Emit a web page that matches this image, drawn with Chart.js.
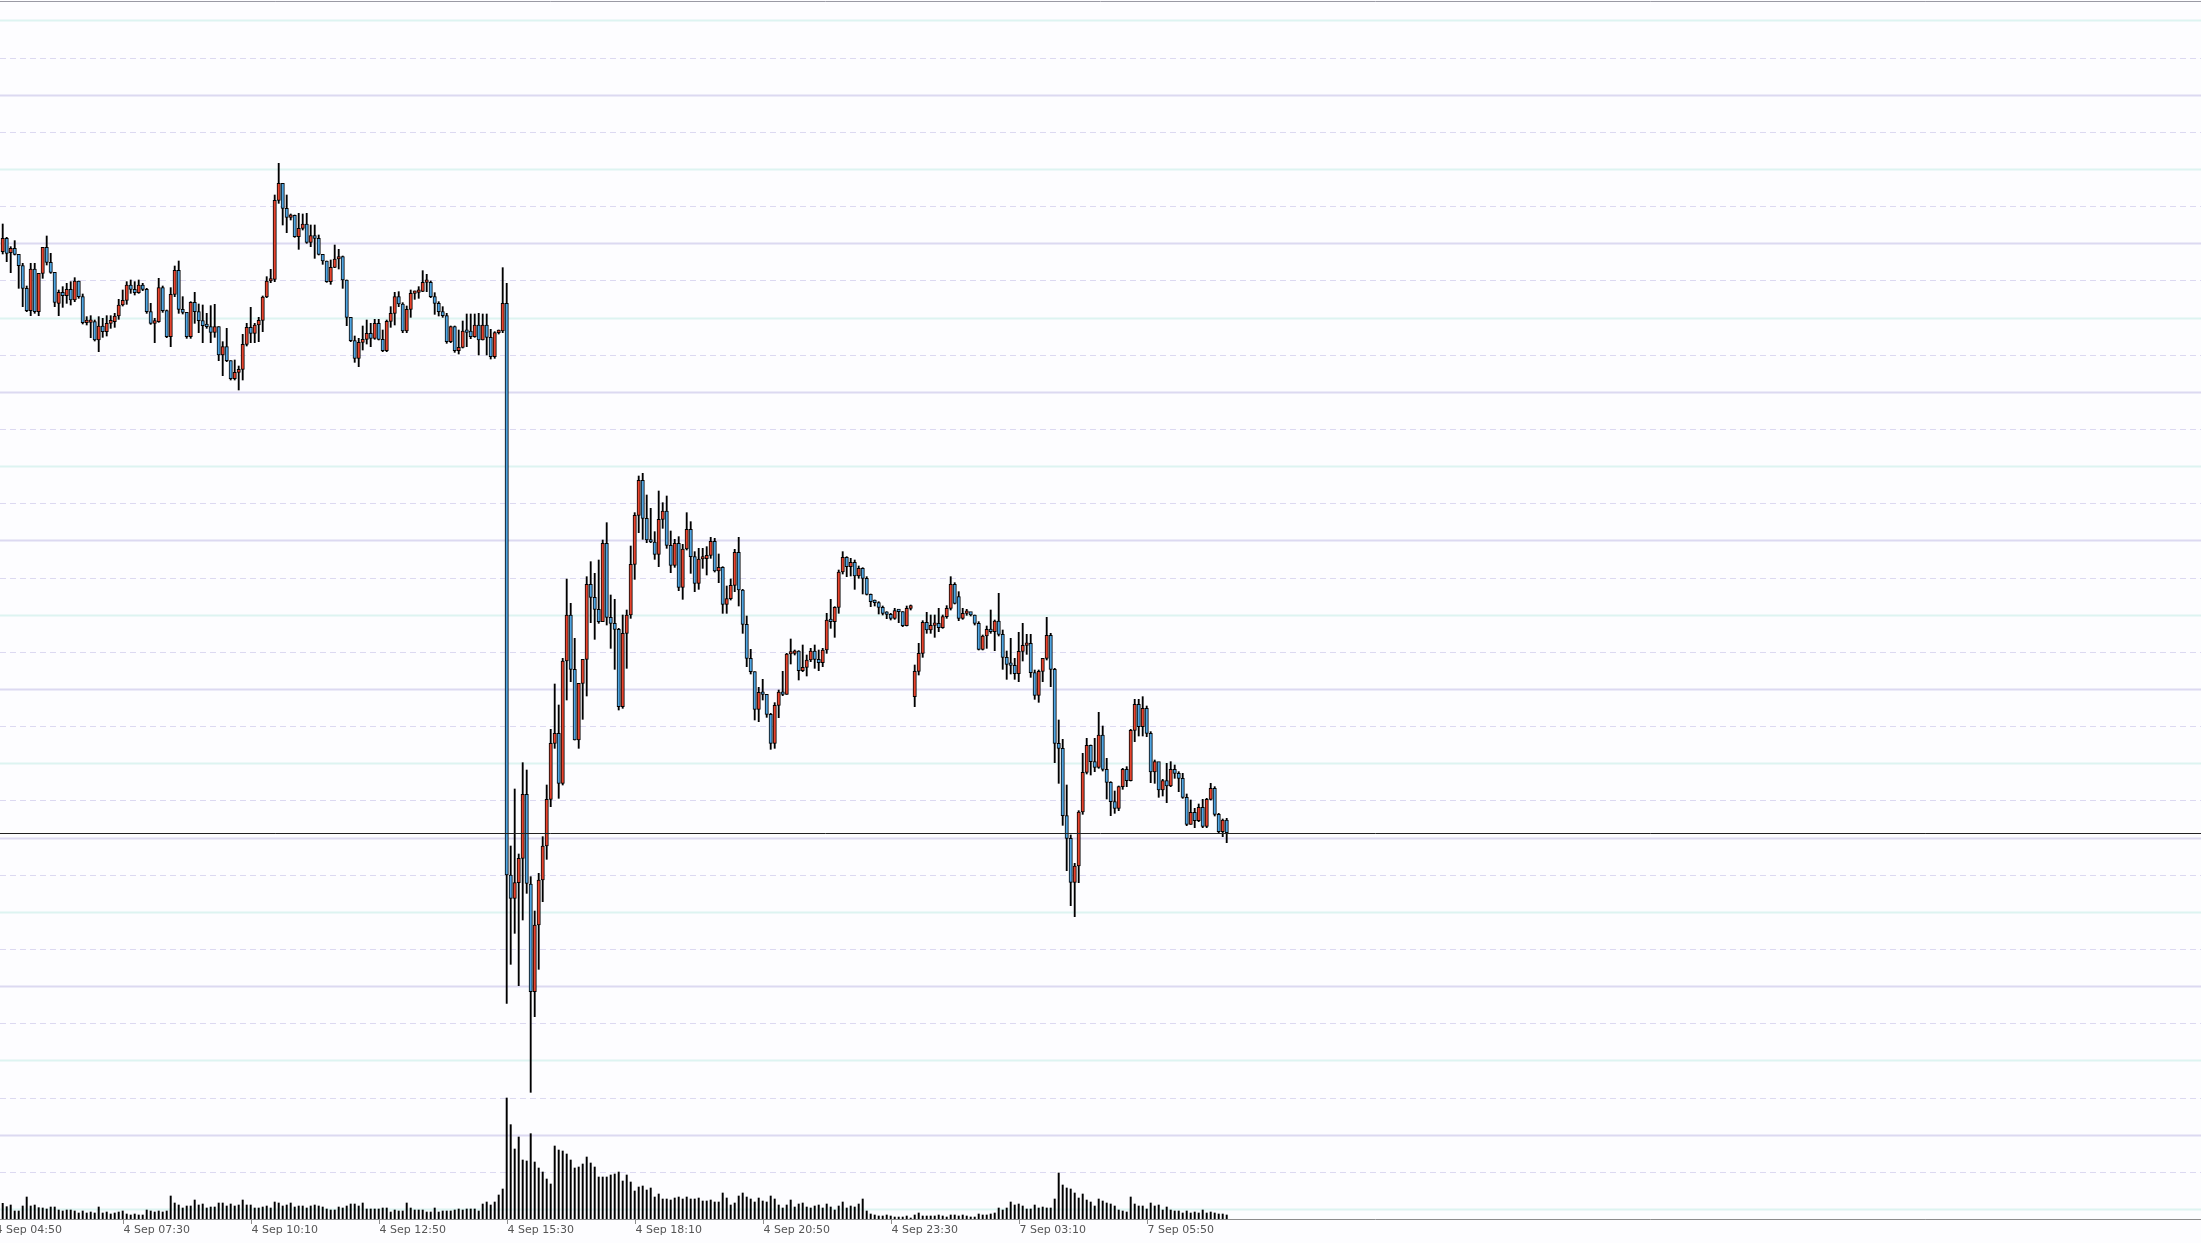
<!DOCTYPE html>
<html>
<head>
<meta charset="utf-8">
<script src="https://cdn.jsdelivr.net/npm/chart.js@4/dist/chart.umd.min.js"></script>
<style>
  html, body { margin: 0; padding: 0; background: #fdfdff; }
  #wrap { width: 2201px; height: 1243px; }
</style>
</head>
<body>
<div id="wrap"><canvas id="chart"></canvas></div>
<script>
// 5-minute candles, 4 Sep 05:00 .. 23:55, then 7 Sep 01:00 .. 06:30
const openVals = [
  2902,2942,2899,2912,2894,2860,2792,2725,2850,2722, 2837,2915,2870,2840,2747,2780,2770,2789,2757,2814,
  2767,2689,2690,2692,2637,2679,2662,2687,2692,2709, 2742,2756,2802,2789,2779,2802,2789,2722,2687,2692,
  2794,2725,2647,2774,2846,2729,2720,2647,2750,2722, 2695,2680,2677,2660,2677,2592,2617,2575,2521,2540,
  2549,2624,2675,2657,2682,2696,2766,2814,2819,3056, 3107,3032,3005,3011,2947,2972,2985,2930,2950,2942,
  2894,2874,2812,2855,2880,2887,2817,2705,2635,2582, 2630,2639,2657,2642,2687,2639,2605,2693,2717,2767,
  2745,2664,2729,2777,2780,2783,2810,2810,2767,2747, 2722,2710,2632,2677,2605,2615,2664,2664,2647,2682,
  2637,2682,2645,2587,2659,2664,2747,1032,962,1009, 1082,1274,1005,682,882,1017,1119,1259,1427,1457,
  1307,1674,1812,1649,1437,1607,1679,1904,1865,1829, 1792,2027,1805,1787,1769,1537,1757,1812,1964,2111,
  2216,2102,2037,2031,1994,2099,2124,2021,1961,2027, 1895,2010,2069,1987,1907,1980,1981,1991,2033,1944,
  1955,1844,1861,1901,2000,1887,1784,1682,1642,1529, 1580,1574,1514,1427,1541,1581,1574,1695,1697,1704,
  1645,1655,1677,1704,1679,1669,1707,1797,1792,1835, 1941,1985,1957,1970,1929,1952,1922,1874,1852,1849,
  1835,1817,1814,1802,1825,1822,1780,1832,1567,1643, 1697,1790,1767,1781,1787,1774,1807,1832,1904,1867,
  1802,1817,1822,1812,1787,1709,1749,1769,1762,1794, 1754,1685,1664,1661,1636,1703,1721,1727,1639,1571,
  1643,1682,1751,1649,1427,1412,1210,1142,1010,1059, 1221,1340,1421,1372,1355,1452,1349,1310,1252,1232,
  1297,1349,1315,1466,1544,1477,1532,1457,1341,1372, 1287,1315,1299,1349,1337,1322,1265,1184,1220,1195,
  1235,1178,1259,1292,1214,1162,1197
];
const highVals = [
  2985,2945,2917,2935,2894,2867,2799,2867,2867,2837, 2915,2949,2897,2840,2787,2797,2807,2812,2824,2814,
  2775,2707,2710,2697,2707,2702,2710,2710,2717,2759, 2787,2812,2817,2812,2817,2807,2792,2747,2702,2822,
  2799,2727,2794,2859,2874,2767,2720,2752,2780,2745, 2742,2717,2740,2744,2677,2632,2672,2575,2577,2559,
  2654,2687,2735,2687,2705,2769,2827,2849,3072,3167, 3107,3072,3015,3012,3017,3015,3017,2982,2982,2952,
  2894,2874,2877,2922,2909,2889,2817,2705,2649,2642, 2679,2697,2687,2699,2699,2667,2697,2737,2780,2782,
  2749,2739,2787,2784,2797,2845,2834,2814,2779,2752, 2737,2717,2679,2679,2667,2694,2715,2715,2715,2717,
  2715,2715,2669,2662,2667,2854,2807,1119,1290,1095, 1369,1347,1027,924,1037,1147,1302,1469,1605,1542,
  1682,1920,1847,1742,1607,1679,1927,1972,1937,1977, 2037,2089,1872,1859,1772,1812,1827,2019,2119,2229,
  2237,2172,2132,2062,2184,2149,2169,2064,2039,2047, 2024,2119,2092,2002,2012,2012,2017,2045,2042,1995,
  1957,1899,1920,2009,2045,1889,1809,1709,1642,1595, 1619,1574,1517,1549,1587,1643,1697,1740,1707,1705,
  1722,1692,1712,1722,1707,1712,1817,1859,1837,1947, 2002,1987,1982,1977,1959,1954,1927,1875,1857,1852,
  1839,1822,1817,1832,1827,1822,1839,1842,1662,1727, 1795,1820,1812,1812,1832,1812,1840,1927,1909,1882,
  1832,1829,1817,1812,1792,1752,1779,1827,1797,1877, 1767,1704,1742,1682,1760,1787,1754,1754,1647,1647,
  1682,1805,1757,1652,1497,1439,1302,1152,1067,1225, 1397,1442,1422,1442,1520,1479,1382,1312,1284,1299,
  1352,1357,1469,1559,1559,1567,1539,1462,1377,1369, 1319,1367,1372,1362,1342,1337,1275,1257,1232,1245,
  1259,1262,1307,1297,1217,1200,1202
];
const lowVals = [
  2895,2872,2839,2892,2792,2737,2722,2710,2717,2710, 2822,2862,2837,2737,2710,2735,2747,2742,2752,2762,
  2685,2682,2644,2634,2602,2645,2649,2672,2675,2699, 2739,2744,2777,2772,2777,2785,2717,2684,2629,2690,
  2720,2644,2617,2767,2717,2715,2642,2642,2687,2659, 2629,2672,2629,2645,2575,2530,2572,2517,2517,2487,
  2517,2619,2629,2629,2632,2662,2764,2809,2812,3047, 2982,2959,2997,2945,2909,2967,2927,2917,2882,2892,
  2864,2810,2804,2854,2850,2792,2680,2632,2570,2557, 2607,2625,2617,2639,2637,2602,2602,2675,2682,2737,
  2659,2659,2705,2759,2762,2782,2782,2764,2714,2709, 2705,2627,2629,2600,2595,2613,2617,2641,2645,2592,
  2637,2592,2580,2582,2655,2659,647,764,857,700, 897,977,380,607,749,952,1079,1237,1412,1262,
  1302,1557,1612,1437,1412,1499,1569,1789,1739,1787, 1792,1782,1712,1649,1527,1532,1652,1802,1919,2059,
  2039,2029,2029,1979,1957,2072,2012,1939,1955,1885, 1859,2007,1937,1882,1889,1952,1932,1982,1941,1909,
  1817,1817,1857,1882,1839,1757,1657,1635,1497,1492, 1557,1505,1409,1412,1504,1570,1574,1665,1692,1617,
  1642,1629,1672,1652,1645,1657,1697,1772,1745,1817, 1935,1927,1929,1889,1922,1875,1872,1837,1839,1815,
  1812,1801,1797,1799,1789,1777,1779,1827,1537,1632, 1685,1757,1757,1745,1762,1772,1802,1827,1845,1795,
  1799,1811,1809,1782,1707,1707,1712,1757,1705,1749, 1649,1619,1635,1619,1612,1674,1694,1625,1559,1550,
  1612,1677,1597,1369,1307,1181,1045,940,907,1009, 1214,1335,1332,1342,1352,1344,1260,1210,1217,1225,
  1289,1297,1314,1432,1449,1449,1447,1309,1307,1265, 1269,1249,1297,1322,1282,1262,1180,1184,1174,1192,
  1174,1174,1257,1209,1159,1147,1129
];
const closeVals = [
  2942,2897,2912,2894,2860,2792,2725,2850,2722,2837, 2915,2870,2840,2750,2780,2770,2789,2757,2814,2767,
  2689,2690,2692,2637,2679,2662,2687,2696,2709,2742, 2756,2802,2789,2779,2802,2789,2722,2687,2695,2794,
  2725,2647,2774,2846,2729,2720,2647,2750,2722,2695, 2680,2677,2660,2677,2592,2617,2575,2521,2540,2549,
  2624,2675,2657,2682,2696,2766,2814,2819,3056,3107, 3032,3005,3011,2947,2972,2985,2930,2950,2942,2894,
  2874,2812,2855,2880,2887,2817,2705,2635,2582,2630, 2639,2657,2642,2687,2639,2605,2693,2717,2767,2745,
  2664,2729,2777,2780,2783,2810,2812,2767,2747,2722, 2710,2632,2677,2605,2615,2664,2660,2647,2682,2637,
  2682,2645,2587,2659,2664,2747,1032,962,1009,1082, 1274,1007,682,882,1017,1119,1259,1427,1457,1307,
  1674,1812,1649,1437,1607,1679,1904,1865,1829,1792, 2027,1805,1787,1769,1537,1757,1812,1964,2111,2216,
  2102,2037,2031,1994,2099,2124,2021,1961,2027,1895, 2010,2069,1987,1907,1980,1981,1991,2033,1944,1955,
  1844,1861,1901,2000,1887,1784,1682,1642,1529,1580, 1574,1514,1427,1541,1581,1574,1695,1697,1704,1645,
  1655,1677,1704,1679,1669,1707,1797,1792,1835,1941, 1985,1957,1970,1929,1952,1922,1874,1852,1849,1835,
  1817,1814,1802,1825,1822,1780,1832,1840,1643,1697, 1790,1767,1781,1787,1774,1807,1832,1904,1847,1802,
  1817,1822,1812,1787,1709,1749,1769,1762,1794,1754, 1685,1664,1661,1636,1703,1721,1727,1639,1571,1643,
  1682,1751,1649,1427,1412,1210,1142,1010,1059,1221, 1340,1421,1372,1355,1452,1349,1310,1252,1232,1297,
  1349,1315,1466,1544,1477,1532,1457,1341,1372,1287, 1315,1299,1349,1337,1322,1265,1184,1220,1195,1235,
  1178,1259,1292,1214,1162,1197,1159
];
const volumeVals = [
  47,37,42,24,24,39,66,39,42,34, 33,30,36,36,27,24,27,27,24,18,
  24,18,21,18,36,18,21,15,18,21, 24,15,12,15,12,12,27,24,21,24,
  21,24,69,48,42,33,39,39,57,42, 45,33,36,36,48,48,39,45,39,42,
  57,42,42,33,33,36,39,33,51,48, 39,42,48,36,39,39,33,39,42,39,
  36,30,27,27,36,33,39,45,45,39, 48,30,30,30,30,33,33,21,27,24,
  24,48,33,27,27,27,21,21,33,21, 24,24,24,27,30,27,30,30,30,24,
  45,51,42,51,72,90,363,283,210,246, 177,174,256,171,153,141,120,105,219,207,
  204,195,177,153,156,165,186,168,156,126, 126,126,132,135,141,114,132,111,84,96,
  99,87,93,66,75,60,60,57,63,66, 60,66,60,60,63,54,54,57,51,51,
  78,63,42,48,69,78,66,60,51,63, 54,51,69,60,42,33,42,57,36,45,
  48,36,33,39,42,33,45,36,27,39, 51,33,39,36,45,60,24,15,12,9,
  9,12,9,6,6,6,9,3,12,18, 9,9,9,9,12,9,6,12,12,9,
  12,9,6,6,15,12,12,15,18,33, 27,33,51,42,45,39,30,30,42,33,
  36,33,33,60,138,102,93,90,78,63, 75,57,51,39,60,54,48,45,39,27,
  24,21,66,45,39,39,30,48,39,42, 27,36,27,24,24,18,24,18,21,18,
  27,18,21,18,15,15,12
];
// time axis labels and the candle index they sit on
const tickLabels = ['4 Sep 04:50','4 Sep 07:30','4 Sep 10:10','4 Sep 12:50','4 Sep 15:30',
                    '4 Sep 18:10','4 Sep 20:50','4 Sep 23:30','7 Sep 03:10','7 Sep 05:50'];
const tickIndex = [-2, 30, 62, 94, 126, 158, 190, 222, 254, 286];

const UP = '#e8432d', DOWN = '#4fa5e2';

const bodies = openVals.map((o, i) => ({ x: i, y: [o, closeVals[i]] }));
const wicks = lowVals.map((l, i) => ({ x: i, y: [l, highVals[i]] }));
const vols = volumeVals.map((v, i) => ({ x: i, y: v }));

// grid lines every 111.42 price units, pattern: aqua, dashed, lavender, dashed
const gridPlugin = {
  id: 'mtGrid',
  beforeDraw(chart) {
    const c = chart.ctx;
    c.save();
    c.fillStyle = '#fdfdff';
    c.fillRect(0, 0, chart.width, chart.height);
    c.restore();
  },
  beforeDatasetsDraw(chart) {
    const c = chart.ctx, y = chart.scales.y, a = chart.chartArea;
    c.save();
    for (let k = -4; k < 29; k++) {
      const py = Math.round(y.getPixelForValue(3150 - 111.42 * k)) + 0.5;
      const t = ((k % 4) + 4) % 4;
      c.beginPath();
      if (t === 0) { c.strokeStyle = '#ddf4f1'; c.lineWidth = 2; c.setLineDash([]); }
      else if (t === 2) { c.strokeStyle = '#dcd9f1'; c.lineWidth = 2; c.setLineDash([]); }
      else { c.strokeStyle = '#dcd9f1'; c.lineWidth = 1; c.setLineDash([6, 4]); }
      c.moveTo(a.left, py); c.lineTo(a.right, py); c.stroke();
    }
    c.setLineDash([]);
    c.strokeStyle = '#9a9aa4'; c.lineWidth = 1;
    c.beginPath(); c.moveTo(a.left, 1.5); c.lineTo(a.right, 1.5); c.stroke();
    c.restore();
  },
  afterDatasetsDraw(chart) {
    const c = chart.ctx, x = chart.scales.x, y = chart.scales.y, a = chart.chartArea;
    c.save();
    // last price line
    const lp = Math.round(y.getPixelForValue(closeVals[closeVals.length - 1])) + 0.5;
    c.strokeStyle = '#222'; c.lineWidth = 1;
    c.beginPath(); c.moveTo(a.left, lp); c.lineTo(a.right, lp); c.stroke();
    // time axis
    c.strokeStyle = '#8c8c8c';
    c.beginPath(); c.moveTo(a.left, a.bottom + 0.5); c.lineTo(a.right, a.bottom + 0.5); c.stroke();
    c.fillStyle = '#555';
    c.font = '11px "DejaVu Sans"';
    c.textAlign = 'left'; c.textBaseline = 'top';
    tickIndex.forEach((idx, n) => {
      const px = Math.round(x.getPixelForValue(idx)) + 0.5;
      c.beginPath(); c.moveTo(px, a.bottom); c.lineTo(px, a.bottom + 5); c.stroke();
      c.fillText(tickLabels[n], px, a.bottom + 6);
    });
    c.restore();
  }
};

const ctx = document.getElementById('chart').getContext('2d');
new Chart(ctx, {
  type: 'bar',
  data: {
    datasets: [
      {
        label: 'body', data: bodies, order: 1,
        barThickness: 3.4, minBarLength: 2.5, borderWidth: 1, borderSkipped: false,
        borderColor: '#000',
        backgroundColor: c => closeVals[c.dataIndex] >= openVals[c.dataIndex] ? UP : DOWN
      },
      {
        label: 'wick', data: wicks, order: 2,
        barThickness: 1.2, backgroundColor: '#000', borderWidth: 0
      },
      {
        label: 'volume', data: vols, order: 3, yAxisID: 'yv',
        barThickness: 1.3, backgroundColor: '#000', borderWidth: 0
      }
    ]
  },
  options: {
    responsive: true,
    maintainAspectRatio: false,
    animation: false,
    layout: { padding: { left: 0, right: 0, top: 0, bottom: 24 } },
    plugins: { legend: { display: false }, tooltip: { enabled: false } },
    datasets: { bar: { grouped: false } },
    scales: {
      x: { type: 'linear', min: -0.675, max: 549.575, offset: false, display: false },
      y: { min: 0, max: 3657, display: false },
      yv: { min: 0, max: 3657, display: false }
    }
  },
  plugins: [gridPlugin]
});
</script>
</body>
</html>
